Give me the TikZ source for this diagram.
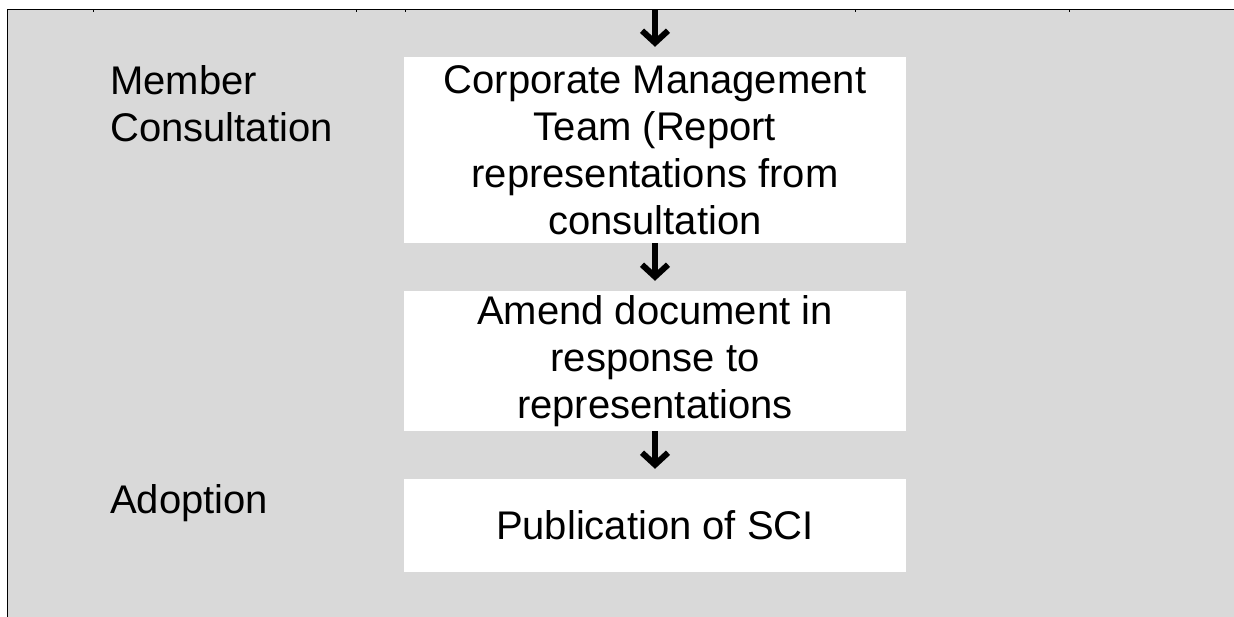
\documentclass[tikz,border=0pt]{standalone}
\usepackage{fontspec}
\setmainfont{Liberation Sans}
\usetikzlibrary{arrows.meta}
\definecolor{bggray}{HTML}{D9D9D9}
\tikzset{
  stepbox/.style={fill=white, draw=none, minimum width=502pt, align=center, inner sep=0pt,
    font=\fontsize{40}{47}\selectfont},
  sidelabel/.style={anchor=west, align=left, inner sep=0pt, font=\fontsize{40}{47}\selectfont},
  flowarrow/.style={line width=6pt, -{Straight Barb[length=12pt,width=26pt]}, shorten >=10pt},
  frameline/.style={line width=1.6pt, black},
}
\begin{document}
\begin{tikzpicture}[x=1pt,y=-1pt]
\useasboundingbox (0,0) rectangle (1234,617);
\fill[bggray] (8,10) rectangle (1234,617);
\draw[frameline] (7.5,617) -- (7.5,9.5) -- (1234,9.5);
\foreach \tx in {93,356,405,855,1069} \draw[line width=1pt] (\tx,9.5) -- (\tx,12);
\node[stepbox, minimum height=186pt] (b1) at (655,150) {Corporate Management\\Team (Report\\representations from\\consultation};
\node[stepbox, minimum height=140pt] (b2) at (655,361) {Amend document in\\response to\\representations};
\node[stepbox, minimum height=93pt] (b3) at (655,525.5) {Publication of SCI};
\node[sidelabel] (l1) at (110,104) {Member\\Consultation};
\node[sidelabel] (l2) at (110,503) {Adoption};
\coordinate (top) at (655,10);
\draw[flowarrow] (top) -- (b1.north);
\draw[flowarrow] (b1.south) -- (b2.north);
\draw[flowarrow] (b2.south) -- (b3.north);
\end{tikzpicture}
\end{document}
